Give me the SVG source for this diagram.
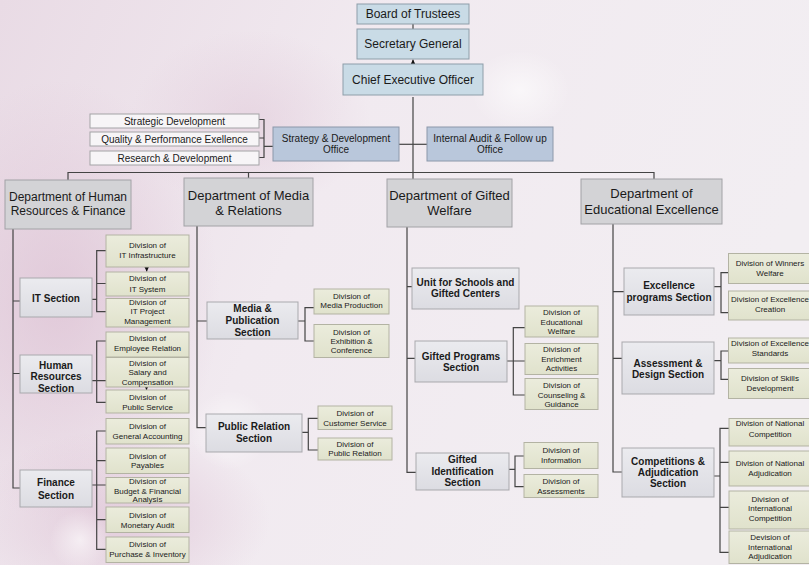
<svg xmlns="http://www.w3.org/2000/svg" width="809" height="565" viewBox="0 0 809 565">
<defs>
<linearGradient id="bg" x1="0" y1="0" x2="1" y2="0.3">
<stop offset="0" stop-color="#e9dbe5"/><stop offset="0.45" stop-color="#f1eaf0"/><stop offset="1" stop-color="#f2eef2"/>
</linearGradient>
<radialGradient id="pink" cx="0.5" cy="0.5" r="0.5">
<stop offset="0" stop-color="#dcbfd2" stop-opacity="0.7"/><stop offset="1" stop-color="#dcbfd2" stop-opacity="0"/>
</radialGradient>
<radialGradient id="glow" cx="0.5" cy="0.5" r="0.5">
<stop offset="0" stop-color="#ffffff" stop-opacity="0.6"/><stop offset="1" stop-color="#ffffff" stop-opacity="0"/>
</radialGradient>
<linearGradient id="secg" x1="0" y1="0" x2="0" y2="1">
<stop offset="0" stop-color="#ebebef"/><stop offset="1" stop-color="#dcdce2"/>
</linearGradient>
<linearGradient id="divg" x1="0" y1="0" x2="0" y2="1">
<stop offset="0" stop-color="#ebecdc"/><stop offset="1" stop-color="#e0e2cc"/>
</linearGradient>
<marker id="arr" viewBox="0 0 10 10" refX="10" refY="5" markerWidth="4.5" markerHeight="4.5" markerUnits="userSpaceOnUse" orient="auto">
<path d="M0,0 L10,5 L0,10 z" fill="#111"/>
</marker>
</defs>
<style>
.top{fill:#c9dbe6;stroke:#8e9ea9;stroke-width:1}
.so{fill:#b9c7db;stroke:#8c98aa;stroke-width:1}
.lst{fill:#f7f5f7;stroke:#a3a3a6;stroke-width:1}
.dept{fill:#d3d3d6;stroke:#a2a2a6;stroke-width:1}
.sec{fill:url(#secg);stroke:#a9a9ad;stroke-width:1}
.div{fill:url(#divg);stroke:#b3b3a3;stroke-width:1}
text{font-family:"Liberation Sans",Arial,sans-serif;fill:#1a1a1a;text-anchor:middle}
.t12{font-size:12px}
.t13{font-size:13px}
.t10{font-size:10px}
.b10{font-size:10px;font-weight:bold}
.t8{font-size:8px}
.con{fill:none;stroke:#444;stroke-width:1.2}
</style>
<rect x="0" y="0" width="809" height="565" fill="url(#bg)"/>
<ellipse cx="60" cy="300" rx="160" ry="220" fill="url(#pink)"/>
<ellipse cx="120" cy="520" rx="150" ry="90" fill="url(#pink)"/>
<ellipse cx="250" cy="120" rx="120" ry="90" fill="url(#pink)" opacity="0.6"/>
<ellipse cx="230" cy="430" rx="40" ry="40" fill="url(#glow)"/>
<ellipse cx="80" cy="540" rx="30" ry="30" fill="url(#glow)"/>
<ellipse cx="520" cy="90" rx="50" ry="40" fill="url(#glow)"/>

<g id="connectors" class="con">
<path d="M413,24 V29"/>
<path d="M413,64 V59.5" marker-end="url(#arr)"/>
<path d="M413,97 V179"/>
<path d="M399,144.3 H427"/>
<path d="M259,119.5 H264 V157.5 H259 M259,138 H264 M264,146.3 H273"/>
<path d="M68,180 V172.5 H654 V179 M248.5,172.5 V178"/>
<path d="M13,229 V488 H20 M13,301 H20 M13,373.5 H20"/>
<path d="M106,250.7 H96.7 V311.7 H106 M96.7,283.5 H106 M92,299.3 H96.7"/>
<path d="M146.7,266.5 V271.5" marker-end="url(#arr)"/>
<path d="M106,341 H96.7 V402.3 H106 M92,380.7 H106"/>
<path d="M146.5,385.5 V390" marker-end="url(#arr)"/>
<path d="M106,431 H96.7 V549.3 H106 M96.7,460.7 H106 M92,485 H106 M96.7,519.7 H106"/>
<path d="M197,226 V427.7 H206 M197,321 H207"/>
<path d="M314,307.7 H305 V341 H314 M298,321 H305"/>
<path d="M318,418.3 H308.3 V450 H318 M302,432.3 H308.3"/>
<path d="M407,227 V472.3 H416 M407,286.7 H412 M407,358.3 H415"/>
<path d="M525,327.7 H513.3 V395 H525 M507,361 H525"/>
<path d="M524,456 H515 V486.7 H524 M509,469.3 H515"/>
<path d="M613,224 V472 H622 M613,291.7 H624 M613,358.3 H622"/>
<path d="M728,272.7 H721 V312.7 H728 M714,286.7 H721"/>
<path d="M728,351 H721 V379.3 H728 M714,360.7 H721"/>
<path d="M729,428.3 H720 V552.3 H729 M720,462.3 H729 M714,476 H720 M720,507.3 H729"/>
</g>

<g id="board"><rect class="top" x="357" y="4" width="112" height="20"/><text class="t12" x="413" y="18.3">Board of Trustees</text></g>
<g id="secgen"><rect class="top" x="357" y="29" width="112" height="30"/><text class="t12" x="413" y="48.3">Secretary General</text></g>
<g id="ceo"><rect class="top" x="343" y="64" width="140" height="31"/><text class="t12" x="413" y="84">Chief Executive Officer</text></g>

<g id="strategic-dev"><rect class="lst" x="90" y="114" width="169" height="14"/><text class="t10" x="174.5" y="124.5">Strategic Development</text></g>
<g id="quality"><rect class="lst" x="90" y="132" width="169" height="14"/><text class="t10" x="174.5" y="142.5">Quality &amp; Performance Exellence</text></g>
<g id="research"><rect class="lst" x="90" y="151" width="169" height="14"/><text class="t10" x="174.5" y="161.5">Research &amp; Development</text></g>
<g id="strategy-office"><rect class="so" x="273" y="127" width="126" height="34"/><text class="t10" x="336" y="141.8">Strategy &amp; Development<tspan x="336" dy="11.5">Office</tspan></text></g>
<g id="audit-office"><rect class="so" x="427" y="127" width="126" height="34"/><text class="t10" x="490" y="141.8">Internal Audit  &amp; Follow up<tspan x="490" dy="11.5">Office</tspan></text></g>

<g id="dept-hr"><rect class="dept" x="5" y="180" width="126" height="49"/><text class="t12" x="68" y="201">Department of Human<tspan x="68" dy="14">Resources &amp; Finance</tspan></text></g>
<g id="dept-media"><rect class="dept" x="184" y="178" width="129" height="48"/><text class="t13" x="248.5" y="199.5">Department of Media<tspan x="248.5" dy="15">&amp; Relations</tspan></text></g>
<g id="dept-gifted"><rect class="dept" x="387" y="179" width="125" height="48"/><text class="t13" x="449.5" y="199.5">Department of Gifted<tspan x="449.5" dy="15">Welfare</tspan></text></g>
<g id="dept-edu"><rect class="dept" x="581" y="179" width="141" height="45"/><text class="t13" x="651.5" y="198">Department of<tspan x="651.5" dy="15.5">Educational Excellence</tspan></text></g>

<g id="it-section"><rect class="sec" x="20" y="278" width="72" height="39"/><text class="b10" x="56" y="301.5">IT Section</text></g>
<g id="hr-section"><rect class="sec" x="20" y="355" width="72" height="38"/><text class="b10" x="56" y="368.5">Human<tspan x="56" dy="11.5">Resources</tspan><tspan x="56" dy="11.5">Section</tspan></text></g>
<g id="finance-section"><rect class="sec" x="20" y="470" width="72" height="37"/><text class="b10" x="56" y="486">Finance<tspan x="56" dy="12.5">Section</tspan></text></g>

<g id="div-it-infra"><rect class="div" x="106" y="235" width="83" height="32"/><text class="t8" x="147.5" y="247.9">Division of<tspan x="147.5" dy="10.5">IT Infrastructure</tspan></text></g>
<g id="div-it-system"><rect class="div" x="106" y="272" width="83" height="24"/><text class="t8" x="147.5" y="281.2">Division of<tspan x="147.5" dy="10.5">IT System</tspan></text></g>
<g id="div-it-project"><rect class="div" x="106" y="298.5" width="83" height="28.5"/><text class="t8" x="147.5" y="304.6">Division  of<tspan x="147.5" dy="9.8">IT Project</tspan><tspan x="147.5" dy="9.6">Management</tspan></text></g>
<g id="div-employee"><rect class="div" x="106" y="332" width="83" height="25"/><text class="t8" x="147.5" y="341.2">Division of<tspan x="147.5" dy="10">Employee Relation</tspan></text></g>
<g id="div-salary"><rect class="div" x="106" y="357.5" width="83" height="29.5"/><text class="t8" x="147.5" y="365.6">Division of<tspan x="147.5" dy="9.6">Salary and</tspan><tspan x="147.5" dy="9.4">Compensation</tspan></text></g>
<g id="div-public-service"><rect class="div" x="106" y="390" width="83" height="23"/><text class="t8" x="147.5" y="399.6">Division of<tspan x="147.5" dy="10">Public Service</tspan></text></g>
<g id="div-gen-accounting"><rect class="div" x="106" y="418.5" width="83" height="25.5"/><text class="t8" x="147.5" y="428.9">Division of<tspan x="147.5" dy="9.7">General Accounting</tspan></text></g>
<g id="div-payables"><rect class="div" x="106" y="448" width="83" height="25.5"/><text class="t8" x="147.5" y="458.6">Division of<tspan x="147.5" dy="9.4">Payables</tspan></text></g>
<g id="div-budget"><rect class="div" x="106" y="477.5" width="83" height="25.5"/><text class="t8" x="147.5" y="483.6">Division of<tspan x="147.5" dy="10">Budget &amp; Financial</tspan><tspan x="147.5" dy="8.7">Analysis</tspan></text></g>
<g id="div-monetary"><rect class="div" x="106" y="507" width="83" height="25.5"/><text class="t8" x="147.5" y="517.9">Division of<tspan x="147.5" dy="10">Monetary Audit</tspan></text></g>
<g id="div-purchase"><rect class="div" x="106" y="537" width="83" height="25.5"/><text class="t8" x="147.5" y="547.2">Division of<tspan x="147.5" dy="10">Purchase &amp; Inventory</tspan></text></g>

<g id="media-section"><rect class="sec" x="207" y="302" width="91" height="37"/><text class="b10" x="252.5" y="311.8">Media &amp;<tspan x="252.5" dy="12">Publication</tspan><tspan x="252.5" dy="12">Section</tspan></text></g>
<g id="pr-section"><rect class="sec" x="206" y="414" width="96" height="38"/><text class="b10" x="254" y="430.2">Public Relation<tspan x="254" dy="11.7">Section</tspan></text></g>
<g id="div-media-production"><rect class="div" x="314" y="289" width="75" height="25"/><text class="t8" x="351.5" y="298.6">Division of<tspan x="351.5" dy="9.4">Media Production</tspan></text></g>
<g id="div-exhibition"><rect class="div" x="314" y="324.5" width="75" height="33"/><text class="t8" x="351.5" y="334.6">Division of<tspan x="351.5" dy="9.4">Exhibition &amp;</tspan><tspan x="351.5" dy="9">Conference</tspan></text></g>
<g id="div-customer"><rect class="div" x="318" y="406" width="74" height="23.5"/><text class="t8" x="355" y="416.2">Division of<tspan x="355" dy="10">Customer Service</tspan></text></g>
<g id="div-public-relation"><rect class="div" x="318" y="438" width="74" height="22"/><text class="t8" x="355" y="447.2">Division of<tspan x="355" dy="9">Public Relation</tspan></text></g>

<g id="unit-schools"><rect class="sec" x="412" y="268" width="107" height="41"/><text class="b10" x="465.5" y="285.8">Unit for Schools and<tspan x="465.5" dy="11">Gifted Centers</tspan></text></g>
<g id="gifted-programs"><rect class="sec" x="415" y="341" width="92" height="41"/><text class="b10" x="461" y="359.5">Gifted Programs<tspan x="461" dy="11.7">Section</tspan></text></g>
<g id="gifted-identification"><rect class="sec" x="416" y="453" width="93" height="37"/><text class="b10" x="462.5" y="462.8">Gifted<tspan x="462.5" dy="11.7">Identification</tspan><tspan x="462.5" dy="11.2">Section</tspan></text></g>
<g id="div-edu-welfare"><rect class="div" x="525" y="306" width="73" height="31"/><text class="t8" x="561.5" y="314.6">Division of<tspan x="561.5" dy="10">Educational</tspan><tspan x="561.5" dy="9.3">Welfare</tspan></text></g>
<g id="div-enrichment"><rect class="div" x="525" y="343.5" width="73" height="31"/><text class="t8" x="561.5" y="352.2">Division of<tspan x="561.5" dy="9.7">Enrichment</tspan><tspan x="561.5" dy="9.3">Activities</tspan></text></g>
<g id="div-counseling"><rect class="div" x="525" y="378.5" width="73" height="31"/><text class="t8" x="561.5" y="387.9">Division of<tspan x="561.5" dy="10">Counseling &amp;</tspan><tspan x="561.5" dy="9.3">Guidance</tspan></text></g>
<g id="div-information"><rect class="div" x="524" y="442.5" width="74" height="26"/><text class="t8" x="561" y="452.9">Division of<tspan x="561" dy="10">Information</tspan></text></g>
<g id="div-assessments"><rect class="div" x="524" y="474.5" width="74" height="23"/><text class="t8" x="561" y="483.9">Division of<tspan x="561" dy="9.7">Assessments</tspan></text></g>

<g id="excellence-programs"><rect class="sec" x="624" y="268" width="90" height="47"/><text class="b10" x="669" y="289.2">Excellence<tspan x="669" dy="11.6">programs Section</tspan></text></g>
<g id="assessment-design"><rect class="sec" x="622" y="342" width="92" height="52"/><text class="b10" x="668" y="366.8">Assessment  &amp;<tspan x="668" dy="11">Design Section</tspan></text></g>
<g id="competitions"><rect class="sec" x="622" y="448" width="92" height="49"/><text class="b10" x="668" y="464.5">Competitions &amp;<tspan x="668" dy="11">Adjudication</tspan><tspan x="668" dy="11.3">Section</tspan></text></g>
<g id="div-winners"><rect class="div" x="728.5" y="253.5" width="82" height="30"/><text class="t8" x="770" y="266.2">Division of Winners<tspan x="770" dy="9.4">Welfare</tspan></text></g>
<g id="div-exc-creation"><rect class="div" x="728.5" y="291" width="82" height="29"/><text class="t8" x="770" y="302.2">Division of Excellence<tspan x="770" dy="10">Creation</tspan></text></g>
<g id="div-exc-standards"><rect class="div" x="728.5" y="338" width="82" height="25"/><text class="t8" x="770" y="346.2">Division of Excellence<tspan x="770" dy="10">Standards</tspan></text></g>
<g id="div-skills"><rect class="div" x="728.5" y="368.5" width="82" height="30"/><text class="t8" x="770" y="381.2">Division of Skills<tspan x="770" dy="10">Development</tspan></text></g>
<g id="div-nat-comp"><rect class="div" x="729" y="418.5" width="82" height="27.5"/><text class="t8" x="770" y="426.2">Division of National<tspan x="770" dy="10.7">Competition</tspan></text></g>
<g id="div-nat-adj"><rect class="div" x="729" y="451" width="82" height="35"/><text class="t8" x="770" y="465.6">Division of National<tspan x="770" dy="10">Adjudication</tspan></text></g>
<g id="div-intl-comp"><rect class="div" x="729" y="491" width="82" height="38"/><text class="t8" x="770" y="501.9">Division of<tspan x="770" dy="9.3">International</tspan><tspan x="770" dy="9.4">Competition</tspan></text></g>
<g id="div-intl-adj"><rect class="div" x="729" y="531" width="82" height="32.5"/><text class="t8" x="770" y="539.6">Devision of<tspan x="770" dy="10">International</tspan><tspan x="770" dy="9">Adjudication</tspan></text></g>
</svg>
